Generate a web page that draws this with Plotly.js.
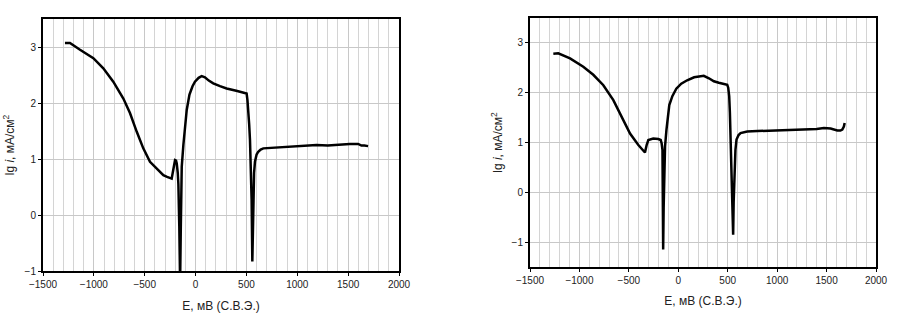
<!DOCTYPE html>
<html><head><meta charset="utf-8">
<script src="https://cdn.plot.ly/plotly-3.0.1.min.js"></script>
<style>html,body{margin:0;padding:0;background:#fff}#c{width:908px;height:314px}</style>
</head><body><div id="c"></div>
<script>
// Left chart: E (mV, СВЭ) vs lg i
const E1 = [-1284,-1235,-1136,-1005,-907,-809,-710,-645,-579,-514,-448,-410,-383,-317,-280,-251,-235,-220,-202,-192,-185,-175,-169,-160,-152,-145,-136,-120,-103,-87,-60,-30,-6,30,60,92,130,174,240,305,400,469,502,510,519,527,535,543,551,558,562,567,575,584,600,616,640,666,750,862,1000,1100,1189,1300,1400,1516,1598,1631,1660,1696];
const L1 = [3.07,3.07,2.95,2.80,2.62,2.38,2.08,1.82,1.49,1.19,0.95,0.88,0.83,0.71,0.68,0.66,0.65,0.80,0.98,0.97,0.92,0.75,0.55,-0.2,-1.2,-0.2,0.86,1.25,1.55,1.875,2.15,2.30,2.38,2.45,2.48,2.46,2.40,2.35,2.30,2.26,2.22,2.19,2.17,2.05,1.88,1.62,1.34,0.8,0.27,-0.83,-0.2,0.35,0.75,0.95,1.08,1.13,1.17,1.19,1.20,1.22,1.23,1.24,1.25,1.24,1.26,1.27,1.27,1.24,1.24,1.23];
// Right chart
const E2 = [-1264,-1214,-1095,-961,-860,-758,-657,-572,-488,-404,-337,-320,-303,-253,-202,-178,-168,-160,-153,-148,-140,-134,-120,-111,-91,-60,-20,30,90,160,225,258,310,360,410,461,495,505,515,522,528,536,545,550,555,560,569,578,589,610,630,660,697,800,933,1000,1102,1200,1271,1400,1473,1541,1608,1640,1659,1675,1683];
const L2 = [2.78,2.79,2.69,2.52,2.36,2.15,1.85,1.52,1.18,0.95,0.80,0.95,1.05,1.08,1.07,1.05,0.98,0.85,-1.15,-0.3,0.5,0.92,1.25,1.39,1.75,1.93,2.08,2.18,2.25,2.31,2.34,2.34,2.29,2.23,2.20,2.18,2.16,2.10,1.93,1.60,1.19,0.7,0.19,-0.3,-0.85,-0.2,0.52,0.85,1.06,1.15,1.19,1.21,1.22,1.23,1.24,1.24,1.24,1.25,1.26,1.27,1.29,1.28,1.24,1.24,1.26,1.32,1.39];

const xTitle = 'E, мВ (С.В.Э.)';
const yTitle = 'lg <i>i</i>, мА/см<sup>2</sup>';

const font = {family: 'Liberation Sans, Arial, sans-serif', size: 10, color: '#222'};
function xax(domain, anchor, standoff) {
  return {
    domain: domain, anchor: anchor, range: [-1500, 2000], dtick: 500, tick0: 0,
    showgrid: true, gridcolor: '#c8c8c8', gridwidth: 1,
    minor: {dtick: 100, showgrid: true, gridcolor: '#d4d4d4', gridwidth: 1},
    ticks: 'outside', ticklen: 3, tickcolor: '#000',
    showline: true, linecolor: '#000', linewidth: 2, mirror: true,
    zeroline: false, tickfont: font,
    title: {text: xTitle, font: {family: font.family, size: 12, color: '#222'}, standoff: standoff}
  };
}
function yax(domain, anchor, range, standoff) {
  return {
    domain: domain, anchor: anchor, range: range, dtick: 1, tick0: 0,
    showgrid: true, gridcolor: '#c8c8c8', gridwidth: 1,
    ticks: 'outside', ticklen: 3, tickcolor: '#000',
    showline: true, linecolor: '#000', linewidth: 2, mirror: true,
    zeroline: false, tickfont: font,
    title: {text: yTitle, font: {family: font.family, size: 12, color: '#222'}, standoff: standoff}
  };
}

const data = [
  {x: E1, y: L1, xaxis: 'x', yaxis: 'y', mode: 'lines', line: {color: '#000', width: 2.5}, hoverinfo: 'skip'},
  {x: E2, y: L2, xaxis: 'x2', yaxis: 'y2', mode: 'lines', line: {color: '#000', width: 2.5}, hoverinfo: 'skip'}
];
const layout = {
  width: 908, height: 314, showlegend: false,
  margin: {l: 0, r: 0, t: 0, b: 0},
  paper_bgcolor: '#fff', plot_bgcolor: '#fff',
  xaxis: xax([43/908, 399/908], 'y', 13),
  yaxis: yax([43/314, 295/314], 'x', [-1, 3.5], 7),
  xaxis2: xax([530/908, 876/908], 'y2', 12),
  yaxis2: yax([47/314, 296/314], 'x2', [-1.5, 3.5], 6)
};
Plotly.newPlot('c', data, layout, {staticPlot: true});
</script></body></html>
